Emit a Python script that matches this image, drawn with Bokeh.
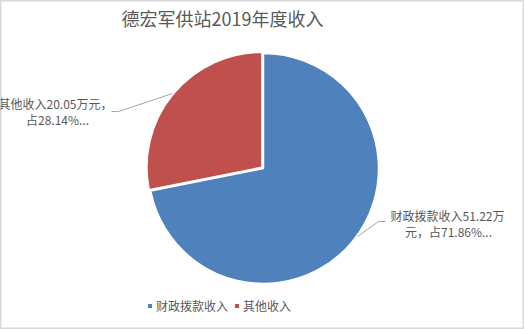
import math
from bokeh.plotting import figure
from bokeh.models import Range1d, ColumnDataSource, Legend, LegendItem
from bokeh.core.properties import value
from bokeh.embed import file_html
from bokeh.resources import INLINE

W, H = 524, 329
FONT = "Noto Sans CJK SC"
GREY = "#595959"

title = "德宏军供站2019年度收入"
categories = ["财政拨款收入", "其他收入"]
amounts = [51.22, 20.05]
percents = [71.86, 28.14]
colors = ["#4f81bd", "#c0504d"]

def sy(y):
    return H - y

p = figure(width=W, height=H, x_range=Range1d(0, W), y_range=Range1d(0, H),
           output_backend="svg", toolbar_location=None, min_border=0)
p.axis.visible = False
p.grid.visible = False
p.outline_line_color = "#d9d9d9"
p.outline_line_width = 2
p.background_fill_color = "white"
p.border_fill_color = "white"

cx, cy, r = 263, 168, 115
total = sum(amounts)
# clockwise from 12 o'clock, first slice first
angle_now = math.pi / 2
renderers = []
explode = [0, 2]
for cat, amt, col, ex in zip(categories, amounts, colors, explode):
    sweep = 2 * math.pi * amt / total
    end = angle_now
    start = angle_now - sweep
    mid = (start + end) / 2
    ox = cx + ex * math.cos(mid)
    oy = sy(cy) + ex * math.sin(mid)
    rr = p.wedge(x=[ox], y=[oy], radius=r, start_angle=[start], end_angle=[end],
                 fill_color=col, line_color="white", line_width=1.5)
    renderers.append(rr)
    angle_now = start

# leader lines
p.line(x=[111, 118, 172], y=[sy(111), sy(111), sy(93)], line_color="#a6a6a6", line_width=1)
p.line(x=[385, 378, 357], y=[sy(221), sy(221), sy(236)], line_color="#a6a6a6", line_width=1)

# data labels
lab_src = ColumnDataSource(dict(
    x=[447, 448, 55, 57],
    y=[sy(215), sy(231), sy(103), sy(119)],
    t=[f"{categories[0]}{amounts[0]}万", f"元，占{percents[0]}%...",
       f"{categories[1]}{amounts[1]}万元，", f"占{percents[1]}%..."],
))
p.text(x="x", y="y", text="t", source=lab_src, text_font=value(FONT),
       text_font_size="12px", text_color=GREY, text_align="center",
       text_baseline="middle")

# title
p.text(x=[222], y=[sy(17)], text=[title], text_font=value(FONT),
       text_font_size="18px", text_color=GREY, text_align="center",
       text_baseline="middle")

legend = Legend(items=[LegendItem(label=c, renderers=[rr]) for c, rr in zip(categories, renderers)],
                orientation="horizontal", location=(146, 15),
                label_text_font=FONT, label_text_font_size="12px",
                label_text_color=GREY, glyph_width=7, glyph_height=7,
                label_standoff=3, spacing=5, padding=0, margin=0,
                label_height=14, border_line_color=None,
                background_fill_alpha=0)
p.add_layout(legend, "center")

open("out.html", "w").write(file_html(p, INLINE))
